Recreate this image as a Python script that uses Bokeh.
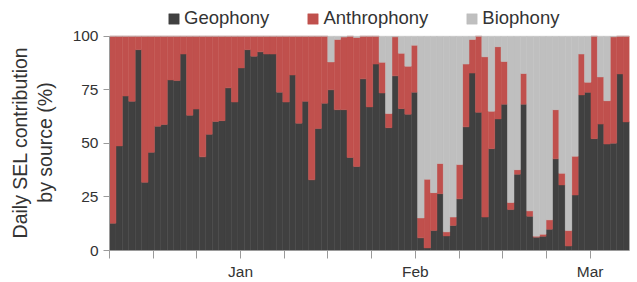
from bokeh.plotting import figure
from bokeh.models import (Range1d, FixedTicker, CustomJSTickFormatter, Legend,
                          LegendItem, ColumnDataSource, Title)
from bokeh.embed import file_html
from bokeh.resources import INLINE

# ---- data (percent of daily SEL by source), one value per day ----
geophony = [12.7, 48.8, 72.1, 69.6, 93.7, 31.8, 45.8, 58.0, 58.8, 79.6,
            79.3, 91.7, 63.1, 66.0, 43.7, 54.2, 60.2, 60.6, 75.9, 69.3,
            85.2, 93.7, 90.7, 92.7, 91.7, 91.7, 73.9, 69.3, 81.9, 59.4,
            69.6, 33.0, 56.9, 68.7, 75.0, 65.7, 65.7, 43.4, 39.2, 80.1,
            67.0, 87.0, 73.5, 57.3, 81.5, 66.2, 63.6, 73.9, 5.9, 1.2,
            9.3, 26.5, 6.8, 11.7, 24.1, 57.7, 82.8, 64.5, 15.6, 47.5,
            61.4, 68.3, 19.1, 35.6, 68.3, 16.0, 6.2, 6.6, 9.9, 42.8,
            30.6, 2.1, 25.9, 72.6, 73.8, 52.2, 59.0, 49.7, 50.1, 82.4,
            60.0]
anthrophony = [87.3, 51.2, 27.9, 30.4, 6.3, 68.2, 54.2, 42.0, 41.2, 20.4,
               20.7, 8.3, 36.9, 34.0, 56.3, 45.8, 39.8, 39.4, 24.1, 30.7,
               14.8, 6.3, 9.3, 7.3, 8.3, 8.3, 26.1, 30.7, 18.1, 40.6,
               30.4, 67.0, 43.1, 31.3, 13.0, 32.8, 33.9, 56.6, 60.2, 19.9,
               33.0, 13.0, 14.3, 6.6, 18.2, 25.8, 22.4, 21.9, 9.3, 32.1,
               17.7, 14.1, 1.9, 3.9, 16.0, 29.3, 15.7, 35.5, 74.8, 17.5,
               33.7, 19.9, 3.3, 2.1, 14.3, 2.5, 0.5, 1.0, 4.4, 22.9,
               5.4, 7.2, 18.1, 19.1, 4.7, 47.8, 22.0, 20.2, 49.6, 17.6,
               40.0]
biophony = [0.0, 0.0, 0.0, 0.0, 0.0, 0.0, 0.0, 0.0, 0.0, 0.0,
            0.0, 0.0, 0.0, 0.0, 0.0, 0.0, 0.0, 0.0, 0.0, 0.0,
            0.0, 0.0, 0.0, 0.0, 0.0, 0.0, 0.0, 0.0, 0.0, 0.0,
            0.0, 0.0, 0.0, 0.0, 12.0, 1.5, 0.4, 0.0, 0.6, 0.0,
            0.0, 0.0, 12.2, 36.1, 0.3, 8.0, 14.0, 4.2, 84.8, 66.7,
            73.0, 59.4, 91.3, 84.4, 59.9, 13.0, 1.5, 0.0, 9.6, 35.0,
            4.9, 11.8, 77.6, 62.3, 17.4, 81.5, 93.3, 92.4, 85.7, 34.3,
            64.0, 90.7, 56.0, 8.3, 21.5, 0.0, 19.0, 30.1, 0.3, 0.0,
            0.0]
sources = ["Geophony", "Anthrophony", "Biophony"]
colors = ["#404040", "#C0504D", "#BFBFBF"]
tick_labels = ["", "", "", "Jan", "", "", "", "Feb", "", "", "", "Mar"]
y_ticks = [0, 25, 50, 75, 100]
y_title = ["Daily SEL contribution", "by source (%)"]

n = len(geophony)
day = [i + 0.5 for i in range(n)]
src = ColumnDataSource(dict(day=day, Geophony=geophony,
                            Anthrophony=anthrophony, Biophony=biophony))

FONT = "Liberation Sans"
TXT = "#333333"
AX = "#9a9a9a"

FRAME_TOP, FRAME_BOTTOM = 36, 252   # where 100 % and 0 % sit on the page
p = figure(width=637, height=282, output_backend="svg", toolbar_location=None,
           x_range=Range1d(0, n),
           y_range=Range1d(0, 100 * FRAME_BOTTOM / (FRAME_BOTTOM - FRAME_TOP)),
           min_border_left=109, min_border_right=8, min_border_top=0,
           min_border_bottom=282 - FRAME_BOTTOM)
p.outline_line_color = None
p.xgrid.visible = False
p.ygrid.visible = False

rs = p.vbar_stack(sources, x="day", width=1.0, source=src,
                  fill_color=colors, line_color=colors, line_width=0.5)

legend = Legend(items=[LegendItem(label=s, renderers=[r]) for s, r in zip(sources, rs)],
                orientation="horizontal", location=(58, 221),
                glyph_width=13, glyph_height=13, label_standoff=4, spacing=37,
                label_text_font=FONT, label_text_font_size="18.5px",
                label_text_color=TXT, label_height=13,
                padding=0, margin=0, border_line_color=None,
                background_fill_alpha=0)
p.add_layout(legend)

# y axis
ya = p.yaxis[0]
ya.bounds = (0, 100)
ya.ticker = FixedTicker(ticks=y_ticks)
ya.minor_tick_line_color = None
ya.major_tick_in = 0
ya.major_tick_out = 6
ya.axis_line_color = AX
ya.major_tick_line_color = AX
ya.major_label_text_font = FONT
ya.major_label_text_font_size = "15.5px"
ya.major_label_text_color = TXT
ya.major_label_standoff = 5
# blank spacer label: keeps the two title lines clear of the tick labels
ya.axis_label = " "
ya.axis_label_text_font_size = "1px"
ya.axis_label_standoff = 9

# y axis title, two lines, each centred on the 0-100 span
# (offsets = half the 0-100 span minus half each line's width at 19.5px)
TITLE_SIZE = 19.5
em_widths = [9.837, 6.168]          # Arial/Liberation Sans advance widths
half_span = (FRAME_BOTTOM - FRAME_TOP) / 2
for text, em, standoff in zip(reversed(y_title), reversed(em_widths), [2, 0]):
    p.add_layout(Title(text=text, align="left",
                       offset=half_span - em * TITLE_SIZE / 2,
                       standoff=standoff, text_font=FONT,
                       text_font_size=f"{TITLE_SIZE}px",
                       text_font_style="normal", text_color=TXT), "left")

# x axis
step = n / 11.9
xa = p.xaxis[0]
xa.ticker = FixedTicker(ticks=[k * step for k in range(len(tick_labels))])
xa.formatter = CustomJSTickFormatter(args=dict(labels=tick_labels),
                                     code="return labels[index] || '';")
xa.minor_tick_line_color = None
xa.major_tick_in = 0
xa.major_tick_out = 8
xa.axis_line_color = AX
xa.major_tick_line_color = AX
xa.major_label_text_font = FONT
xa.major_label_text_font_size = "15.5px"
xa.major_label_text_color = TXT
xa.major_label_standoff = 4

open("out.html", "w").write(file_html(p, INLINE))
